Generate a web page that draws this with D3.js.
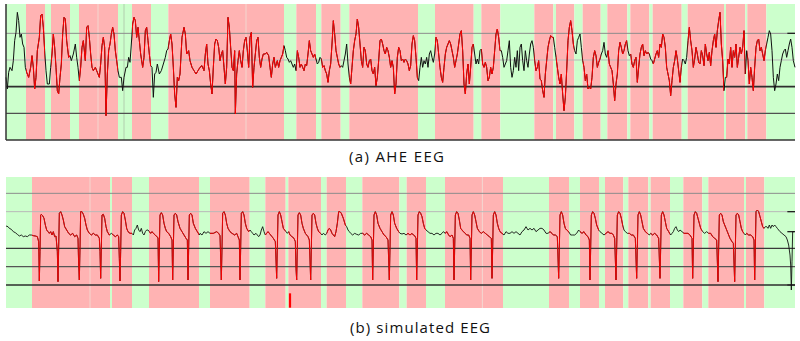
<!DOCTYPE html>
<html>
<head>
<meta charset="utf-8">
<script src="https://cdn.jsdelivr.net/npm/d3@7/dist/d3.min.js"></script>
<style>
body { margin: 0; background: #fff; }
</style>
</head>
<body>
<div id="chart"></div>
<script>
const width = 800;
const height = 341;

// labelled segments: [start sample, end sample, state]  s = seizure, n = normal
const aheBands = [[18,78,"n"],[78,135,"s"],[135,153,"n"],[153,210,"s"],[210,237,"n"],[237,294,"s"],[294,354,"s"],[354,372,"n"],[372,396,"n"],[396,453,"s"],[453,505,"n"],[505,738,"s"],[738,852,"s"],[852,889,"n"],[889,948,"s"],[948,964,"n"],[964,1022,"s"],[1022,1048,"n"],[1048,1254,"s"],[1254,1305,"n"],[1305,1421,"s"],[1421,1444,"n"],[1444,1501,"s"],[1501,1603,"n"],[1603,1660,"s"],[1660,1668,"n"],[1668,1723,"s"],[1723,1748,"n"],[1748,1802,"s"],[1802,1822,"n"],[1822,1882,"s"],[1882,1891,"n"],[1891,1948,"s"],[1948,1958,"n"],[1958,2045,"s"],[2045,2063,"n"],[2063,2172,"s"],[2172,2178,"n"],[2178,2236,"s"],[2236,2242,"n"],[2242,2299,"s"],[2299,2385,"n"]];

const simBands = [[18,96,"n"],[96,270,"s"],[270,330,"s"],[330,336,"n"],[336,396,"s"],[396,447,"n"],[447,597,"s"],[597,630,"n"],[630,749,"s"],[749,796,"n"],[796,857,"s"],[857,865,"n"],[865,963,"s"],[963,980,"n"],[980,1038,"s"],[1038,1087,"n"],[1087,1198,"s"],[1198,1220,"n"],[1220,1278,"s"],[1278,1335,"n"],[1335,1447,"s"],[1447,1509,"s"],[1509,1647,"n"],[1647,1707,"s"],[1707,1740,"n"],[1740,1797,"s"],[1797,1815,"n"],[1815,1870,"s"],[1870,1885,"n"],[1885,1945,"s"],[1945,1952,"n"],[1952,2010,"s"],[2010,2050,"n"],[2050,2107,"s"],[2107,2125,"n"],[2125,2232,"s"],[2232,2238,"n"],[2238,2293,"s"],[2293,2385,"n"]];

// AHE EEG trace, [sample, uV]
const aheTrace = [[18,28],[22,-7],[26,43],[30,58],[36,48],[40,78],[44,138],[48,163],[52,223],[56,198],[60,148],[64,158],[68,128],[72,118],[76,58],[80,43],[86,28],[92,58],[96,93],[100,58],[104,-7],[108,28],[112,108],[118,148],[122,213],[126,218],[130,178],[134,108],[138,48],[142,8],[148,8],[152,58],[156,98],[160,158],[164,118],[168,58],[172,-12],[176,-22],[180,28],[184,68],[188,158],[192,208],[196,203],[200,138],[206,88],[210,93],[214,78],[220,98],[226,128],[230,88],[234,58],[238,18],[242,58],[246,118],[250,138],[256,78],[260,178],[264,183],[268,148],[272,98],[276,58],[280,48],[286,58],[292,43],[298,28],[302,68],[306,123],[310,148],[314,118],[318,-87],[322,38],[326,108],[330,128],[334,158],[338,178],[342,158],[346,108],[350,78],[354,48],[358,28],[364,28],[368,-12],[372,28],[378,58],[382,58],[386,88],[390,73],[394,128],[398,188],[402,208],[406,198],[410,148],[414,178],[418,138],[422,98],[428,58],[432,88],[436,168],[440,178],[444,138],[448,98],[452,63],[456,58],[460,-32],[464,38],[468,43],[472,68],[478,38],[484,48],[490,68],[496,88],[500,108],[504,113],[508,138],[512,158],[516,128],[520,58],[524,-22],[528,-62],[532,28],[536,18],[540,38],[546,148],[552,178],[556,158],[560,98],[566,108],[570,78],[576,58],[582,48],[588,38],[594,48],
[600,58],[606,63],[612,48],[616,98],[620,128],[624,68],[628,48],[632,8],[636,-22],[640,58],[644,128],[648,143],[652,138],[656,118],[660,78],[664,98],[668,108],[672,58],[676,8],[680,58],[684,208],[688,178],[692,118],[696,58],[700,48],[704,108],[706,-82],[710,38],[714,78],[718,108],[722,78],[726,58],[730,108],[734,138],[738,148],[742,108],[746,58],[750,148],[754,163],[758,-2],[762,58],[766,98],[770,138],[774,148],[778,88],[782,58],[786,83],[790,98],[796,98],[800,103],[806,93],[810,58],[814,28],[818,68],[822,88],[826,58],[832,78],[836,58],[840,78],[844,88],[848,98],[852,123],[856,108],[860,88],[864,83],[868,73],[872,78],[876,68],[880,58],[884,68],[888,48],[892,108],[896,88],[900,58],[904,68],[908,58],[912,48],[916,68],[920,63],[924,98],[928,138],[932,108],[936,98],[940,88],[944,98],[948,83],[952,68],[956,73],[960,88],[964,83],[968,58],[972,63],[976,48],[980,38],[984,13],[988,48],[992,68],[996,128],[1000,198],[1004,158],[1008,108],[1012,88],[1016,68],[1020,58],[1024,63],[1028,58],[1032,78],[1036,98],[1040,128],[1044,68],[1048,28],[1052,8],[1056,58],[1060,108],[1064,138],[1068,158],[1072,203],[1076,178],[1080,128],[1084,78],[1088,58],[1092,118],[1096,108],[1100,68],[1104,58],[1108,78],[1112,83],[1116,48],[1120,38],[1124,58],[1128,3],[1132,28],[1136,78],[1140,138],[1144,143],[1148,128],[1152,108],[1156,98],[1160,118],[1164,108],[1168,88],[1172,58],[1176,78],[1180,58],[1184,-22],[1188,8],[1192,88],[1196,118],
[1200,108],[1204,78],[1208,83],[1212,73],[1216,83],[1220,78],[1224,68],[1228,48],[1232,63],[1236,128],[1240,153],[1244,138],[1248,88],[1252,28],[1256,18],[1260,58],[1264,88],[1268,58],[1272,78],[1276,68],[1280,88],[1284,58],[1288,98],[1292,108],[1296,88],[1300,73],[1304,98],[1308,148],[1312,138],[1316,98],[1320,58],[1324,28],[1328,13],[1332,58],[1336,98],[1340,118],[1344,128],[1348,138],[1352,128],[1356,108],[1360,88],[1364,58],[1368,78],[1372,98],[1376,128],[1380,158],[1384,168],[1388,108],[1392,8],[1396,-22],[1400,38],[1404,68],[1408,8],[1412,58],[1416,118],[1420,128],[1424,98],[1428,68],[1432,83],[1436,68],[1440,108],[1444,113],[1448,68],[1452,58],[1456,73],[1460,58],[1464,18],[1468,28],[1472,58],[1476,38],[1480,58],[1484,108],[1488,158],[1492,173],[1496,148],[1500,108],[1504,108],[1508,88],[1512,58],[1516,68],[1520,78],[1524,108],[1528,138],[1532,58],[1536,28],[1540,48],[1544,88],[1548,58],[1552,108],[1556,48],[1560,118],[1564,128],[1568,78],[1572,48],[1576,108],[1580,78],[1584,58],[1588,98],[1592,128],[1596,138],[1600,118],[1604,78],[1608,48],[1612,58],[1616,78],[1620,23],[1624,18],[1628,-12],[1632,-32],[1636,38],[1640,78],[1644,118],[1648,138],[1652,153],[1656,148],[1660,148],[1664,118],[1668,88],[1672,58],[1676,28],[1680,8],[1684,38],[1688,-22],[1692,-72],[1696,-32],[1700,48],[1704,138],[1708,178],[1712,198],[1716,168],[1720,128],[1724,108],[1728,98],[1732,138],[1736,148],[1740,158],[1744,118],[1748,78],[1752,58],[1756,18],[1760,38],[1764,-7],[1768,-2],[1772,-7],[1776,28],[1780,88],[1784,108],[1788,93],[1792,58],[1796,73],
[1800,83],[1804,98],[1808,108],[1812,133],[1816,98],[1820,88],[1824,108],[1828,68],[1832,58],[1836,48],[1840,8],[1844,-42],[1848,8],[1852,38],[1856,108],[1860,133],[1864,118],[1868,98],[1872,108],[1876,128],[1880,138],[1884,108],[1888,93],[1892,98],[1896,68],[1900,58],[1904,78],[1908,88],[1912,13],[1916,58],[1920,98],[1924,118],[1928,128],[1932,93],[1936,108],[1940,98],[1944,103],[1948,98],[1952,83],[1956,78],[1960,68],[1964,83],[1968,98],[1972,108],[1976,88],[1980,128],[1984,118],[1988,158],[1992,148],[1996,118],[2000,58],[2004,38],[2008,18],[2012,-27],[2016,18],[2020,58],[2024,78],[2028,108],[2032,83],[2036,48],[2040,13],[2044,58],[2048,83],[2052,78],[2056,68],[2060,88],[2064,138],[2068,178],[2072,138],[2076,108],[2080,58],[2084,83],[2088,118],[2092,98],[2096,73],[2100,68],[2104,108],[2108,93],[2112,63],[2116,128],[2120,98],[2124,78],[2128,103],[2132,63],[2136,108],[2140,138],[2144,158],[2148,118],[2152,168],[2156,198],[2160,223],[2164,128],[2168,78],[2172,-12],[2176,28],[2180,28],[2184,83],[2188,68],[2192,118],[2196,58],[2200,108],[2204,88],[2208,128],[2212,58],[2216,88],[2220,118],[2224,98],[2228,118],[2232,168],[2236,38],[2240,108],[2244,78],[2248,8],[2252,58],[2256,28],[2260,-12],[2264,58],[2268,118],[2272,138],[2276,143],[2280,108],[2284,118],[2288,98],[2292,78],[2296,108],[2300,128],[2304,148],[2308,168],[2312,158],[2316,108],[2320,28],[2324,-12],[2328,8],[2332,38],[2336,18],[2340,58],[2344,78],[2348,98],[2352,108],[2356,113],[2360,88],[2364,108],[2368,128],[2372,143],[2376,118],[2380,78],[2385,58]];

// simulated EEG trace, [sample, uV]
const simTrace = [[18,12],[24,10],[28,5],[34,2],[40,-5],[46,-8],[52,-13],[58,-18],[64,-15],[70,-20],[76,-18],[82,-20],[88,-15],[94,-15],[100,-17],[106,-18],[112,-20],[116,-35],[118,-153],[120,-65],[122,45],[124,47],[128,43],[132,35],[136,15],[140,0],[144,-5],[148,-10],[152,-5],[156,-15],[160,-5],[164,-20],[168,-18],[172,-65],[174,-155],[176,-55],[178,50],[182,55],[186,45],[190,30],[194,10],[200,0],[206,-10],[212,-15],[218,-10],[224,-20],[230,-15],[234,-25],[236,-105],[238,-150],[240,-55],[242,55],[246,55],[250,47],[254,35],[258,15],[262,0],[268,-10],[274,-15],[280,-10],[286,-15],[292,-15],[298,-25],[300,-65],[302,-145],[304,-55],[306,45],[310,47],[314,35],[318,10],[322,-5],[328,-15],[334,-10],[340,-15],[346,-20],[352,-15],[356,-20],[358,-85],[360,-153],[362,-65],[364,45],[368,55],[372,50],[376,30],[380,5],[384,-5],[390,-10],[396,-10],[400,-15],[404,0],[408,5],[412,15],[416,0],[420,-5],[424,5],[428,-10],[432,-15],[436,-5],[440,0],[444,0],[448,-5],[452,-10],[456,-5],[460,-10],[466,-15],[470,-20],[474,-23],[476,-155],[478,-55],[480,45],[484,52],[488,45],[492,20],[496,5],[500,-5],[506,-10],[512,-20],[516,-30],[518,-150],[520,-55],[522,45],[526,50],[530,45],[534,25],[540,5],[546,-5],[552,-15],[558,-25],[562,-30],[564,-150],[566,-55],[568,45],[572,50],[576,45],[580,20],[586,5],[592,-5],[598,-15],
[600,-10],[606,-15],[612,-5],[618,-10],[624,-5],[630,-10],[640,-10],[650,-5],[656,-10],[660,-17],[664,-150],[666,-55],[668,50],[672,55],[676,45],[680,20],[684,5],[690,-5],[696,-10],[704,-15],[710,-10],[714,-20],[718,-30],[720,-150],[722,-55],[724,50],[728,55],[732,45],[736,20],[740,5],[746,-5],[750,0],[754,-5],[758,-10],[762,-15],[768,-10],[772,-15],[776,-20],[780,-15],[784,0],[788,10],[792,-5],[796,-15],[800,-10],[804,-5],[808,-10],[812,-15],[816,-20],[820,-25],[826,-35],[830,-145],[832,-55],[834,45],[838,55],[842,45],[846,25],[850,5],[854,0],[858,-5],[862,-10],[866,-5],[870,-15],[876,-20],[882,-25],[886,-35],[888,-115],[890,-150],[892,-55],[894,45],[898,52],[902,45],[906,20],[910,5],[916,-10],[920,-15],[924,-20],[928,-30],[932,-150],[934,-55],[936,45],[940,50],[944,45],[948,20],[952,5],[956,-5],[962,-10],[966,-15],[970,-10],[976,-15],[980,-10],[984,0],[988,5],[992,0],[996,-10],[1000,-15],[1004,-20],[1008,-5],[1012,20],[1016,55],[1020,55],[1024,50],[1030,35],[1036,15],[1040,10],[1044,0],[1048,-5],[1052,-10],[1058,-15],[1064,-10],[1070,-13],[1076,-15],[1082,-10],[1088,-10],[1094,-15],[1100,-10],[1106,-15],[1112,-20],[1116,-30],[1118,-150],[1120,-55],[1122,45],[1126,55],[1130,45],[1134,20],[1140,5],[1146,-5],[1152,-15],[1158,-20],[1164,-30],[1168,-150],[1170,-55],[1172,45],[1176,55],[1180,45],[1184,20],[1190,5],[1196,-5],
[1200,-10],[1206,-12],[1212,-10],[1218,-15],[1224,-10],[1230,-15],[1236,-10],[1240,-15],[1244,-17],[1248,-25],[1250,-150],[1252,-55],[1254,45],[1258,55],[1262,50],[1266,40],[1270,20],[1274,5],[1278,0],[1284,-5],[1290,-10],[1296,-10],[1302,-15],[1308,-10],[1314,-10],[1320,-15],[1326,-10],[1330,-5],[1336,-10],[1340,-5],[1346,-15],[1350,-20],[1356,-15],[1360,-25],[1362,-150],[1364,-55],[1366,45],[1370,55],[1374,50],[1378,30],[1382,5],[1386,0],[1390,-5],[1396,-10],[1400,-15],[1406,-15],[1410,-25],[1412,-150],[1414,-55],[1416,45],[1420,55],[1424,45],[1428,25],[1432,5],[1438,-5],[1444,-10],[1450,-5],[1456,-10],[1462,-15],[1468,-20],[1474,-25],[1476,-145],[1478,-55],[1480,45],[1484,55],[1488,45],[1492,20],[1496,5],[1500,-5],[1506,-10],[1512,-15],[1518,-5],[1524,-10],[1530,-10],[1536,-5],[1542,-10],[1548,-5],[1554,-10],[1560,-15],[1566,-5],[1572,0],[1578,10],[1584,0],[1590,5],[1596,0],[1602,5],[1608,-5],[1614,0],[1620,5],[1626,5],[1632,0],[1638,-10],[1644,-10],[1650,-5],[1656,-10],[1660,-15],[1666,-15],[1672,-20],[1676,-145],[1678,-55],[1680,45],[1684,55],[1688,45],[1692,20],[1696,5],[1700,0],[1706,-5],[1712,-15],[1718,-15],[1724,-15],[1730,-10],[1736,0],[1740,-5],[1746,-10],[1752,-5],[1758,-15],[1764,-20],[1768,-30],[1770,-150],[1772,-55],[1774,45],[1778,55],[1782,50],[1786,35],[1790,15],[1796,0],
[1800,-5],[1806,-10],[1812,-15],[1818,-10],[1824,-5],[1830,-10],[1836,-10],[1840,-15],[1844,-25],[1848,-150],[1850,-55],[1852,45],[1856,55],[1860,50],[1864,35],[1868,15],[1872,0],[1876,-5],[1882,-10],[1888,-10],[1894,-15],[1900,-15],[1906,-25],[1910,-145],[1912,-55],[1914,45],[1918,55],[1922,45],[1926,25],[1930,5],[1936,-5],[1942,-10],[1948,-15],[1952,-10],[1958,-15],[1964,-10],[1970,-15],[1976,-25],[1980,-145],[1982,-55],[1984,45],[1988,55],[1992,45],[1996,25],[2000,5],[2006,-5],[2012,-15],[2016,-10],[2020,-5],[2024,5],[2028,10],[2032,0],[2036,-5],[2040,0],[2046,-5],[2052,-10],[2058,-10],[2064,-10],[2070,-15],[2076,-25],[2078,-145],[2080,-55],[2082,45],[2086,55],[2090,50],[2094,35],[2098,20],[2102,5],[2108,-5],[2114,-10],[2120,-5],[2126,-10],[2132,-10],[2138,-20],[2144,-25],[2150,-30],[2154,-155],[2156,-55],[2158,45],[2162,50],[2166,45],[2170,25],[2174,15],[2178,5],[2182,-5],[2186,-15],[2190,-25],[2196,-35],[2200,-40],[2204,-155],[2206,-55],[2208,45],[2212,50],[2216,45],[2220,25],[2224,5],[2228,-5],[2232,-10],[2236,-15],[2240,-10],[2246,-15],[2252,-15],[2258,-20],[2262,-30],[2264,-150],[2266,-55],[2268,55],[2272,60],[2276,55],[2280,40],[2284,25],[2288,10],[2292,5],[2296,10],[2300,10],[2304,5],[2308,15],[2312,5],[2316,15],[2320,10],[2324,15],[2328,10],[2332,5],[2336,0],[2340,-5],[2346,-10],[2352,-15],[2358,-20],[2362,-30],[2366,-45],[2370,-75],[2372,-105],[2374,-180],[2376,-95],[2378,-5],[2382,-5]];

// short artifact mark in the simulated record: [sample, uV from, uV to]
const simArtifacts = [[870,-190,-233]];

const aheGrid = [160, 80, 0, -80];
const simGrid = [110, 55, -55, -110, -165];
const aheRightTicks = [160];
const simRightTicks = [55, -5, -165];

const captions = ["(a) AHE EEG", "(b) simulated EEG"];

const svg = d3.select("#chart").append("svg")
  .attr("width", width)
  .attr("height", height)
  .style("font-family", "'Open Sans', 'DejaVu Sans', sans-serif");

const x = d3.scaleLinear().domain([18, 2385]).range([6, 795]);
const yA = d3.scaleLinear().domain([-160, 248]).range([140, 4]);
const yB = d3.scaleLinear().domain([-234, 159]).range([308, 177]);

const bandFill = { s: "#ffb3b3", n: "#ccffcc" };
const splitLine = { s: "#f3d7cf", n: "#b2ceae" };

function drawPanel(id, bands, trace, y, grid, gridColors, gridWidths, rightTicks, traceWidth) {
  const g = svg.append("g");
  const [yBot, yTop] = y.range();

  g.selectAll("rect.band").data(bands).enter().append("rect")
    .attr("x", d => x(d[0]))
    .attr("y", yTop)
    .attr("width", d => x(d[1]) - x(d[0]))
    .attr("height", yBot - yTop)
    .attr("fill", d => bandFill[d[2]]);

  // faint seam where two segments of the same label touch
  g.selectAll("line.seam").data(bands.filter((d, i) => i > 0 && bands[i - 1][2] === d[2]))
    .enter().append("line")
    .attr("x1", d => x(d[0])).attr("x2", d => x(d[0]))
    .attr("y1", yTop).attr("y2", yBot)
    .attr("stroke", d => splitLine[d[2]])
    .attr("stroke-width", 1);

  g.selectAll("line.grid").data(grid).enter().append("line")
    .attr("x1", x(18)).attr("x2", x(2385))
    .attr("y1", d => y(d)).attr("y2", d => y(d))
    .attr("stroke", (d, i) => gridColors[i])
    .attr("stroke-width", (d, i) => gridWidths[i]);

  g.selectAll("line.rtick").data(rightTicks).enter().append("line")
    .attr("x1", x(2362)).attr("x2", x(2385))
    .attr("y1", d => y(d)).attr("y2", d => y(d))
    .attr("stroke", "#222")
    .attr("stroke-width", 1.3);

  const clip = svg.append("clipPath").attr("id", id);
  clip.selectAll("rect").data(bands.filter(d => d[2] === "s")).enter().append("rect")
    .attr("x", d => x(d[0]))
    .attr("y", yTop)
    .attr("width", d => x(d[1]) - x(d[0]))
    .attr("height", yBot - yTop);

  const line = d3.line().x(d => x(d[0])).y(d => y(d[1]));

  g.append("path").datum(trace)
    .attr("d", line)
    .attr("fill", "none")
    .attr("stroke", "#111")
    .attr("stroke-width", traceWidth);

  g.append("path").datum(trace)
    .attr("d", line)
    .attr("fill", "none")
    .attr("stroke", "#ff0000")
    .attr("stroke-width", traceWidth)
    .attr("clip-path", "url(#" + id + ")");

  return g;
}

const upperPanel = drawPanel("clipA", aheBands, aheTrace, yA, aheGrid,
  ["#8c8c8c", "#b8b8b8", "#2e2e2e", "#505050"], [1, 1, 1.6, 1.3], aheRightTicks, 1);

// axis frame of the upper record
upperPanel.append("line")
  .attr("x1", x(18)).attr("x2", x(18))
  .attr("y1", yA(248)).attr("y2", yA(-160))
  .attr("stroke", "#333").attr("stroke-width", 1.5);
upperPanel.append("line")
  .attr("x1", x(18)).attr("x2", x(2385))
  .attr("y1", yA(-160)).attr("y2", yA(-160))
  .attr("stroke", "#333").attr("stroke-width", 1.5);

const lowerPanel = drawPanel("clipB", simBands, simTrace, yB, simGrid,
  ["#8c8c8c", "#b8b8b8", "#3a3a3a", "#555", "#2e2e2e"], [1, 1, 1.4, 1.3, 1.5], simRightTicks, 0.9);

lowerPanel.selectAll("line.artifact").data(simArtifacts).enter().append("line")
  .attr("x1", d => x(d[0])).attr("x2", d => x(d[0]))
  .attr("y1", d => yB(d[1])).attr("y2", d => yB(d[2]))
  .attr("stroke", "#ff0000")
  .attr("stroke-width", 2.2);

// captions
svg.append("text")
  .attr("x", 349).attr("y", 162)
  .attr("textLength", 95).attr("lengthAdjust", "spacing")
  .style("font-size", "15px").attr("fill", "#111")
  .text(captions[0]);

svg.append("text")
  .attr("x", 350).attr("y", 333)
  .attr("textLength", 140).attr("lengthAdjust", "spacing")
  .style("font-size", "15px").attr("fill", "#111")
  .text(captions[1]);
</script>
</body>
</html>
